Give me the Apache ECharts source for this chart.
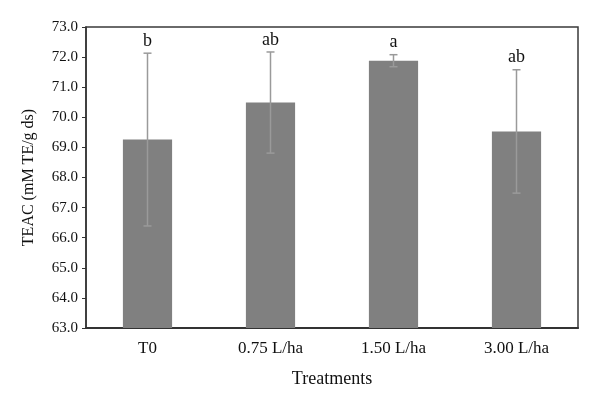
<!DOCTYPE html>
<html><head><meta charset="utf-8">
<script src="https://cdn.jsdelivr.net/npm/echarts@6/dist/echarts.min.js"></script>
<style>html,body{margin:0;padding:0;background:#fff}#c{width:600px;height:403px}</style>
</head><body><div id="c"></div>
<script>
const categories = ['T0', '0.75 L/ha', '1.50 L/ha', '3.00 L/ha'];
const means = [69.26, 70.49, 71.88, 69.53];
const errors = [2.87, 1.68, 0.20, 2.05];
const letters = ['b', 'ab', 'a', 'ab'];
const yTicks = { min: 63, max: 73, interval: 1 };

const F = 'Liberation Serif, DejaVu Serif, serif';
const chart = echarts.init(document.getElementById('c'));
const errData = categories.map((c, i) => [i, means[i] - errors[i], means[i] + errors[i], letters[i]]);
chart.setOption({
  animation: false,
  grid: { left: 86, right: 22, top: 27, bottom: 75, show: true, borderColor: '#3a3a3a', borderWidth: 1.5 },
  xAxis: {
    type: 'category', data: categories,
    name: 'Treatments', nameLocation: 'middle', nameGap: 42,
    nameTextStyle: { fontFamily: F, fontSize: 18, color: '#111' },
    axisLine: { lineStyle: { color: '#333', width: 2 } },
    axisTick: { show: false },
    axisLabel: { fontFamily: F, fontSize: 17, color: '#111', margin: 12 }
  },
  yAxis: {
    type: 'value', min: yTicks.min, max: yTicks.max, interval: yTicks.interval,
    name: 'TEAC (mM TE/g ds)', nameLocation: 'middle', nameGap: 49,
    nameTextStyle: { fontFamily: F, fontSize: 16, color: '#111' },
    axisLine: { show: true, lineStyle: { color: '#333', width: 1.5 } },
    axisTick: { show: true, inside: false, length: 4, lineStyle: { color: '#333' } },
    splitLine: { show: false },
    axisLabel: { fontFamily: F, fontSize: 15, color: '#111', margin: 8, formatter: v => v.toFixed(1) }
  },
  series: [
    { type: 'bar', data: means, barWidth: '40%', itemStyle: { color: '#808080' } },
    {
      type: 'custom', data: errData, z: 10,
      renderItem: function (params, api) {
        const x = api.value(0);
        const lo = api.coord([x, api.value(1)]);
        const hi = api.coord([x, api.value(2)]);
        const s = { stroke: '#9a9a9a', lineWidth: 1.5 };
        return {
          type: 'group', children: [
            { type: 'line', shape: { x1: hi[0], y1: hi[1], x2: lo[0], y2: lo[1] }, style: s },
            { type: 'line', shape: { x1: hi[0] - 4, y1: hi[1], x2: hi[0] + 4, y2: hi[1] }, style: s },
            { type: 'line', shape: { x1: lo[0] - 4, y1: lo[1], x2: lo[0] + 4, y2: lo[1] }, style: s },
            { type: 'text', style: { text: api.value(3), x: hi[0], y: hi[1] - 3, textAlign: 'center', textVerticalAlign: 'bottom', font: '18px ' + F, fill: '#111' } }
          ]
        };
      }
    }
  ]
});
</script></body></html>
